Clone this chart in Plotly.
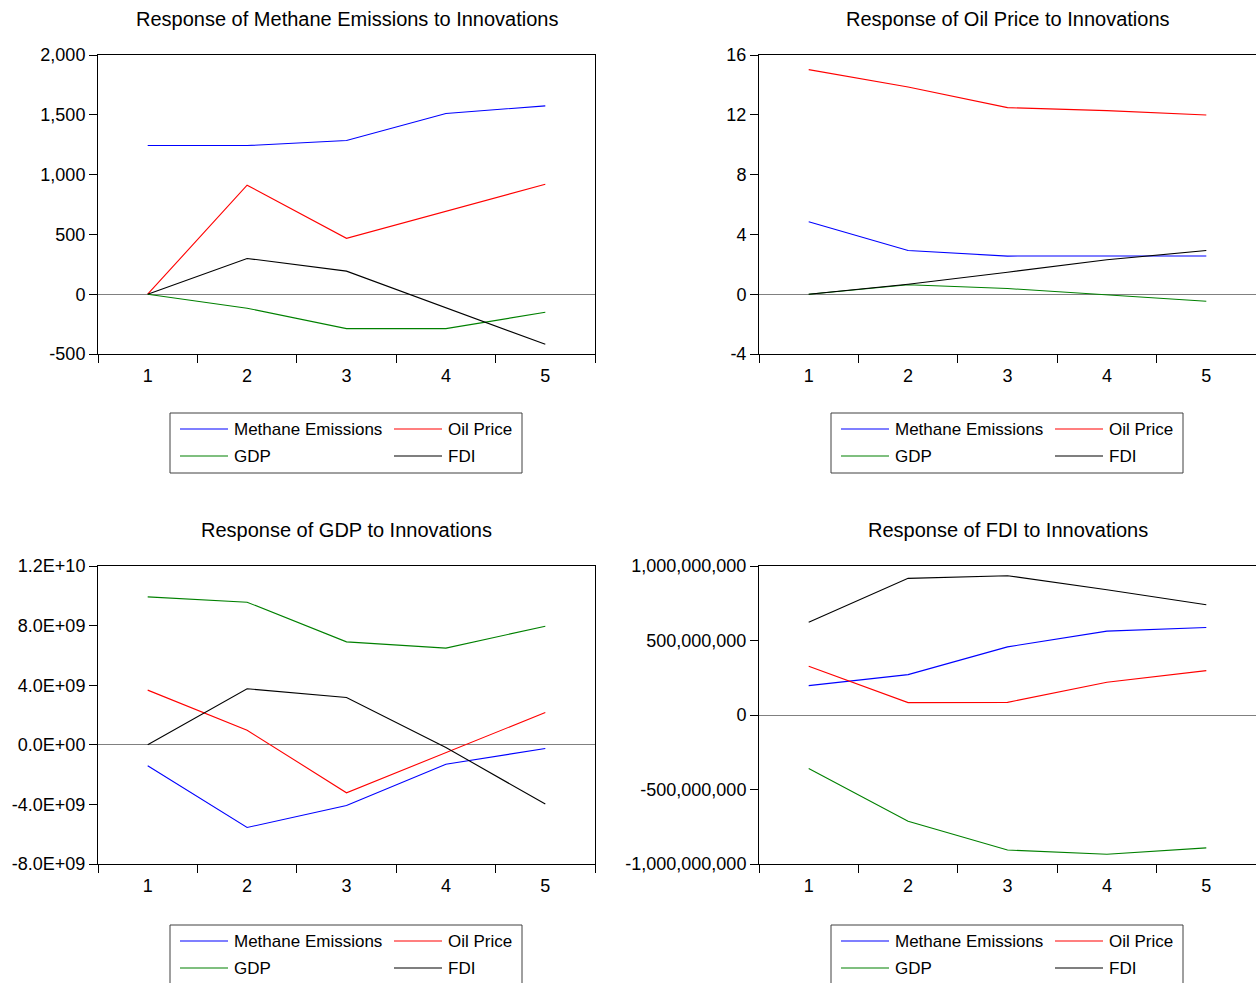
import plotly.graph_objects as go

W, H = 1256, 983

periods = [1, 2, 3, 4, 5]
series_names = ["Methane Emissions", "Oil Price", "GDP", "FDI"]
series_colors = ["#0000FF", "#FF0000", "#008000", "#000000"]

# Response of Methane Emissions
methane_resp_methane = [1243, 1243, 1285, 1511, 1575]
methane_resp_oil = [0, 911, 467, 690, 919]
methane_resp_gdp = [0, -117, -288, -288, -151]
methane_resp_fdi = [0, 299, 193, -110, -419]

# Response of Oil Price
oil_resp_methane = [4.84, 2.92, 2.55, 2.55, 2.56]
oil_resp_oil = [15.02, 13.86, 12.48, 12.28, 11.99]
oil_resp_gdp = [0, 0.63, 0.38, -0.07, -0.47]
oil_resp_fdi = [0, 0.67, 1.47, 2.30, 2.92]

# Response of GDP
gdp_resp_methane = [-1.41e9, -5.55e9, -4.07e9, -1.30e9, -0.25e9]
gdp_resp_oil = [3.67e9, 0.98e9, -3.22e9, -0.52e9, 2.17e9]
gdp_resp_gdp = [9.93e9, 9.57e9, 6.91e9, 6.49e9, 7.96e9]
gdp_resp_fdi = [0, 3.76e9, 3.18e9, -0.18e9, -3.98e9]

# Response of FDI
fdi_resp_methane = [197e6, 271e6, 457e6, 563e6, 587e6]
fdi_resp_oil = [327e6, 83e6, 85e6, 220e6, 298e6]
fdi_resp_gdp = [-359e6, -713e6, -906e6, -935e6, -892e6]
fdi_resp_fdi = [623e6, 917e6, 935e6, 841e6, 740e6]

panel_titles = [
    "Response of Methane Emissions to Innovations",
    "Response of Oil Price to Innovations",
    "Response of GDP to Innovations",
    "Response of FDI to Innovations",
]

methane_ticks = [-500, 0, 500, 1000, 1500, 2000]
methane_ticktext = ["-500", "0", "500", "1,000", "1,500", "2,000"]
oil_ticks = [-4, 0, 4, 8, 12, 16]
oil_ticktext = ["-4", "0", "4", "8", "12", "16"]
gdp_ticks = [-8e9, -4e9, 0, 4e9, 8e9, 1.2e10]
gdp_ticktext = ["-8.0E+09", "-4.0E+09", "0.0E+00", "4.0E+09", "8.0E+09", "1.2E+10"]
fdi_ticks = [-1e9, -5e8, 0, 5e8, 1e9]
fdi_ticktext = ["-1,000,000,000", "-500,000,000", "0", "500,000,000", "1,000,000,000"]

panels = [
    ([methane_resp_methane, methane_resp_oil, methane_resp_gdp, methane_resp_fdi],
     methane_ticks, methane_ticktext, [-500, 2000]),
    ([oil_resp_methane, oil_resp_oil, oil_resp_gdp, oil_resp_fdi],
     oil_ticks, oil_ticktext, [-4, 16]),
    ([gdp_resp_methane, gdp_resp_oil, gdp_resp_gdp, gdp_resp_fdi],
     gdp_ticks, gdp_ticktext, [-8e9, 1.2e10]),
    ([fdi_resp_methane, fdi_resp_oil, fdi_resp_gdp, fdi_resp_fdi],
     fdi_ticks, fdi_ticktext, [-1e9, 1e9]),
]

# pixel layout of panels: (left, right, top, bottom)
boxes = [
    (98, 595, 55, 354),
    (759, 1256, 55, 354),
    (98, 595, 566, 864),
    (759, 1256, 566, 864),
]
legend_boxes = [(170, 413), (831, 413), (170, 925), (831, 925)]
title_y = [19, 19, 530, 530]

FONT = "Liberation Sans, Arial, sans-serif"

def px(x):
    return x / W

def py(y):
    return 1 - y / H

fig = go.Figure()
layout = dict(
    width=W, height=H,
    margin=dict(l=0, r=0, t=0, b=0, autoexpand=False),
    paper_bgcolor="white", plot_bgcolor="white",
    showlegend=False,
    font=dict(family=FONT, size=17, color="black"),
)
annotations = []
shapes = []

for i, (series, tv, tt, yr) in enumerate(panels):
    ax = "" if i == 0 else str(i + 1)
    l, r, t, b = boxes[i]
    for name, color, vals in zip(series_names, series_colors, series):
        fig.add_trace(go.Scatter(
            x=periods, y=vals, mode="lines", name=name,
            line=dict(color=color, width=1.1),
            xaxis="x" + ax, yaxis="y" + ax,
        ))
    layout["xaxis" + ax] = dict(
        domain=[px(l), px(r)], anchor="y" + ax, range=[0.5, 5.5],
        tickvals=periods, ticktext=[str(p) for p in periods],
        ticks="", showgrid=False, zeroline=False, automargin=False,
        showline=True, linecolor="black", linewidth=1, mirror=True,
        ticklabelstandoff=5,
        tickfont=dict(size=18, family=FONT, color="black"),
        minor=dict(tickvals=[0.5, 1.5, 2.5, 3.5, 4.5, 5.5], ticks="outside",
                   ticklen=8, tickcolor="black", tickwidth=1, showgrid=False),
        fixedrange=True,
    )
    layout["yaxis" + ax] = dict(
        domain=[py(b), py(t)], anchor="x" + ax, range=yr,
        tickvals=tv, ticktext=tt, ticks="outside", ticklen=8,
        tickcolor="black", showgrid=False, automargin=False,
        zeroline=True, zerolinecolor="#808080", zerolinewidth=1.2,
        showline=True, linecolor="black", linewidth=1, mirror=True,
        tickfont=dict(size=18, family=FONT, color="black"),
        fixedrange=True,
    )
    annotations.append(dict(
        text=panel_titles[i], x=px((l + r) / 2), y=py(title_y[i]),
        xref="paper", yref="paper", showarrow=False,
        xanchor="center", yanchor="middle",
        font=dict(size=20, family=FONT, color="black"),
    ))
    # legend box
    lx, ly = legend_boxes[i]
    shapes.append(dict(type="rect", xref="paper", yref="paper",
                       x0=px(lx), x1=px(lx + 352), y0=py(ly), y1=py(ly + 60),
                       line=dict(color="#404040", width=1), fillcolor="white"))
    entries = [(0, 0), (1, 0), (0, 1), (1, 1)]
    for k, (col, row) in enumerate(entries):
        sx = lx + 10 + col * 214
        sy = ly + 16 + row * 27
        shapes.append(dict(type="line", xref="paper", yref="paper",
                           x0=px(sx), x1=px(sx + 48), y0=py(sy), y1=py(sy),
                           line=dict(color=series_colors[k], width=1.2)))
        annotations.append(dict(
            text=series_names[k], x=px(sx + 52), y=py(sy),
            xref="paper", yref="paper", showarrow=False,
            xanchor="left", yanchor="middle",
            font=dict(size=17, family=FONT, color="black"),
        ))

layout["annotations"] = annotations
layout["shapes"] = shapes
fig.update_layout(**layout)

fig.write_html("out.html", post_script="document.body.style.margin='0';",
               config={"displayModeBar": False})
